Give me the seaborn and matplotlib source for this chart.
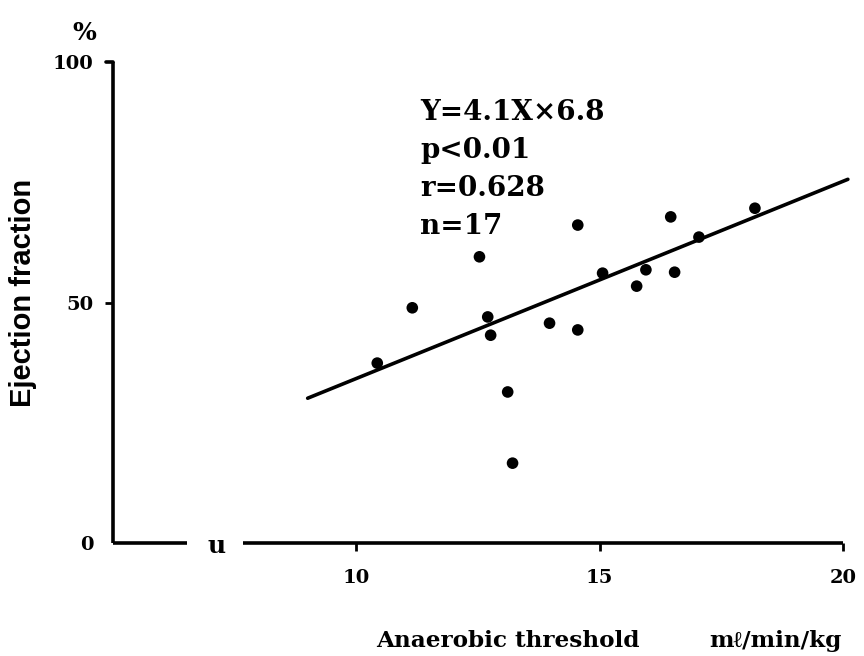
import numpy as np
import pandas as pd
import matplotlib
matplotlib.use("Agg")
import matplotlib.pyplot as plt
import seaborn as sns

# Anaerobic threshold (ml/min/kg) vs ejection fraction (%)
at_values = [10.43, 11.15, 12.53, 12.70, 12.76, 13.11, 13.21, 13.97, 14.55,
             14.55, 15.06, 15.76, 15.95, 16.46, 16.54, 17.04, 18.19]
ef_values = [37.4, 48.9, 59.5, 47.0, 43.2, 31.4, 16.6, 45.7, 66.1,
             44.3, 56.1, 53.4, 56.8, 67.8, 56.3, 63.6, 69.6]

# regression line Y = 4.1 X - 6.8 over the observed range
slope = 4.1
intercept = -6.8
fit_x = [9.0, 20.1]

x_ticks = [10, 15, 20]
y_ticks = [0, 50, 100]
stats_lines = ["Y=4.1X×6.8", "p<0.01", "r=0.628", "n=17"]

sns.set_theme(style="white")
serif = ["DejaVu Serif", "Liberation Serif"]
plt.rcParams["font.family"] = serif
for key in ("text.color", "axes.labelcolor", "xtick.color", "ytick.color"):
    plt.rcParams[key] = "black"

fig = plt.figure(figsize=(8.64, 6.56), dpi=100)
ax = fig.add_axes([113 / 864, 113 / 656, 730 / 864, 481 / 656])

df = pd.DataFrame({"at": at_values, "ef": ef_values})
sns.scatterplot(data=df, x="at", y="ef", ax=ax, color="black", s=70,
                edgecolor="none", zorder=3)

fit = pd.DataFrame({"x": fit_x, "y": [slope * v + intercept for v in fit_x]})
sns.lineplot(data=fit, x="x", y="y", ax=ax, color="black", lw=2.6,
             clip_on=False, zorder=2)

ax.set_xlim(5, 20)
ax.set_ylim(0, 100)
for s in ax.spines.values():
    s.set_visible(False)

# axis lines, with a break in the horizontal axis
lw = 2.6
ax.plot([5, 5], [0, 100], color="black", lw=lw, clip_on=False,
        solid_capstyle="butt")
ax.plot([4.85, 5], [100, 100], color="black", lw=lw, clip_on=False)
ax.plot([5, 6.52], [0, 0], color="black", lw=lw, clip_on=False,
        solid_capstyle="butt")
ax.plot([7.67, 20], [0, 0], color="black", lw=lw, clip_on=False,
        solid_capstyle="butt")
ax.text(7.12, -0.6, "u", ha="center", va="center", fontsize=18,
        fontweight="bold", family=serif)

ax.set_xticks(x_ticks)
ax.set_xticklabels([str(t) for t in x_ticks])
ax.set_yticks(y_ticks)
ax.set_yticklabels([str(t) for t in y_ticks])
ax.tick_params(axis="x", direction="out", length=6, width=2, pad=13,
               labelsize=14, bottom=True)
ax.tick_params(axis="y", direction="out", length=6, width=2, pad=8,
               labelsize=14, left=True)
ax.yaxis.get_major_ticks()[0].tick1line.set_visible(False)
ax.yaxis.get_major_ticks()[2].tick1line.set_visible(False)
for lab in ax.get_xticklabels() + ax.get_yticklabels():
    lab.set_fontweight("bold")

ax.set_xlabel("")
ax.set_ylabel("")
fig.text(84 / 864, 1 - 33 / 656, "%", ha="center", va="center",
         fontsize=18, fontweight="bold")
fig.text(23 / 864, 1 - 293 / 656, "Ejection fraction", rotation=90,
         ha="center", va="center", fontsize=21, fontweight="bold",
         family=["Liberation Sans", "DejaVu Sans"])
fig.text(508 / 864, 1 - 641 / 656, "Anaerobic threshold", ha="center",
         va="center", fontsize=16.7, fontweight="bold")
fig.text(775 / 864, 1 - 641 / 656, "mℓ/min/kg", ha="center",
         va="center", fontsize=16.7, fontweight="bold")

for i, line in enumerate(stats_lines):
    fig.text(420 / 864, 1 - (113 + i * 38) / 656, line, ha="left",
             va="center", fontsize=20, fontweight="bold")

fig.savefig("out.png", dpi=100, facecolor="white")
